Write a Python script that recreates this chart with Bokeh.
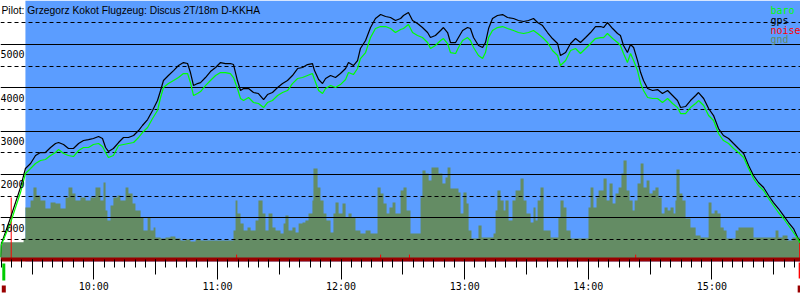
from bokeh.plotting import figure
from bokeh.models import Range1d, LinearAxis, FixedTicker, Grid, ColumnDataSource
from bokeh.core.properties import value
from bokeh.embed import file_html
from bokeh.resources import INLINE

TITLE = "Pilot: Grzegorz Kokot Flugzeug: Discus 2T/18m D-KKHA"

# ---- data (time in minutes since midnight, altitude in m) ----
t_track = [554.7, 555.0, 559.6, 564.4, 566.8, 569.3, 571.7, 574.1, 576.5, 579.0,
           581.4, 582.9, 585.3, 587.7, 590.1, 592.6, 595.0, 597.4, 599.8, 602.3,
           604.2, 605.7, 607.1, 609.5, 612.0, 614.4, 616.8, 619.3, 621.7, 623.6,
           626.1, 628.5, 630.9, 632.4, 633.8, 636.2, 638.7, 641.1, 643.5, 645.5,
           646.9, 648.4, 650.3, 651.8, 654.2, 656.6, 659.1, 661.5, 663.9, 666.3,
           667.8, 669.7, 671.2, 672.7, 675.1, 677.5, 679.9, 682.4, 684.3, 686.7,
           689.2, 691.6, 694.0, 696.4, 698.9, 701.3, 703.7, 706.1, 707.1, 709.1,
           711.0, 712.5, 714.9, 717.3, 719.7, 722.2, 723.6, 726.0, 728.0, 729.4,
           731.9, 734.3, 736.7, 739.2, 741.6, 744.0, 746.4, 748.9, 750.3, 752.7,
           754.7, 757.1, 759.5, 762.0, 763.4, 765.8, 768.3, 769.7, 771.7, 773.1,
           775.6, 777.0, 779.0, 781.4, 782.8, 784.3, 786.7, 788.7, 790.1, 791.6,
           793.5, 795.9, 798.4, 800.8, 803.7, 806.1, 808.6, 811.0, 813.4, 815.4,
           817.8, 820.2, 822.6, 825.1, 826.5, 829.0, 831.4, 833.8, 836.2, 838.7,
           841.1, 843.5, 846.0, 847.4, 849.3, 851.8, 854.2, 855.6, 857.1, 859.0,
           860.5, 862.0, 863.9, 865.4, 866.8, 868.8, 871.2, 873.6, 876.0, 878.5,
           880.9, 883.3, 884.8, 887.2, 889.6, 892.1, 893.5, 896.0, 898.4, 900.8,
           903.2, 905.6, 908.1, 910.5, 912.9, 915.4, 917.8, 920.2, 922.6, 925.1,
           927.5, 929.9, 932.3, 934.8, 937.2, 939.6, 941.6, 943.0]

gps_alt = [90, 380, 1006, 1699, 2137, 2253, 2437, 2506, 2506, 2622,
           2714, 2737, 2691, 2599, 2599, 2714, 2783, 2806, 2830, 2876,
           2830, 2622, 2530, 2599, 2737, 2853, 2853, 2899, 3014, 3130,
           3268, 3476, 3706, 3937, 4168, 4283, 4398, 4514, 4583, 4560,
           4352, 4052, 4098, 4121, 4237, 4375, 4468, 4583, 4560, 4560,
           4537, 4168, 3937, 3983, 3983, 3891, 3868, 3729, 3845, 3891,
           4006, 4098, 4168, 4283, 4445, 4468, 4537, 4560, 4398, 4191,
           4098, 4214, 4283, 4237, 4329, 4445, 4583, 4514, 4629, 4907,
           5091, 5391, 5599, 5691, 5645, 5622, 5553, 5599, 5668, 5737,
           5553, 5484, 5391, 5276, 5160, 5206, 5322, 5391, 5276, 5045,
           5045, 5160, 5322, 5391, 5368, 5160, 4976, 4930, 5045, 5368,
           5599, 5668, 5691, 5622, 5599, 5553, 5530, 5553, 5599, 5507,
           5437, 5276, 5137, 5022, 4745, 4814, 5022, 5137, 5045, 5160,
           5276, 5414, 5414, 5391, 5507, 5368, 5253, 5206, 4976, 4814,
           4999, 4930, 4629, 4352, 4168, 3983, 3937, 3960, 3868, 3937,
           3822, 3706, 3545, 3568, 3706, 3822, 3891, 3753, 3522, 3360,
           3060, 2899, 2830, 2714, 2599, 2483, 2206, 1976, 1814, 1699,
           1514, 1352, 1214, 1052, 891, 752, 545, 406]

baro_alt = [90, 360, 891, 1583, 2022, 2137, 2253, 2322, 2345, 2437,
            2506, 2576, 2483, 2437, 2414, 2553, 2622, 2622, 2691, 2714,
            2645, 2506, 2391, 2437, 2668, 2691, 2714, 2737, 2853, 2968,
            3083, 3291, 3476, 3776, 4006, 4098, 4168, 4237, 4329, 4329,
            4121, 3822, 3868, 3914, 4052, 4168, 4283, 4352, 4352, 4329,
            4237, 3983, 3753, 3706, 3776, 3660, 3637, 3545, 3660, 3706,
            3822, 3891, 3937, 4098, 4214, 4237, 4283, 4329, 4191, 3937,
            3868, 3983, 4052, 4006, 4075, 4191, 4352, 4306, 4445, 4675,
            4814, 5160, 5368, 5414, 5414, 5368, 5276, 5345, 5368, 5460,
            5276, 5206, 5160, 5045, 4907, 4976, 5091, 5137, 5022, 4814,
            4791, 4930, 5091, 5160, 5091, 4930, 4745, 4675, 4814, 5160,
            5322, 5391, 5414, 5368, 5322, 5276, 5253, 5276, 5322, 5253,
            5160, 5045, 4860, 4745, 4514, 4629, 4860, 4907, 4791, 4907,
            5022, 5137, 5160, 5160, 5253, 5137, 5045, 4976, 4791, 4583,
            4791, 4629, 4398, 4098, 3937, 3776, 3753, 3753, 3660, 3753,
            3637, 3545, 3406, 3406, 3545, 3637, 3706, 3591, 3360, 3245,
            2945, 2783, 2714, 2599, 2506, 2391, 2137, 1906, 1745, 1629,
            1445, 1283, 1122, 983, 822, 660, 522, 406]

t_gnd = [554.7, 565.9, 566.8, 569.3, 570.7, 572.2, 574.1, 576.5, 579.0, 581.4,
         583.8, 586.3, 587.7, 589.6, 591.1, 593.5, 596.0, 598.4, 600.8, 603.2,
         604.7, 605.7, 606.6, 608.1, 609.5, 611.5, 612.9, 615.4, 616.8, 618.8,
         620.2, 622.7, 624.1, 626.1, 627.5, 629.0, 629.9, 632.4, 634.8, 637.2,
         639.6, 642.1, 644.5, 646.9, 649.4, 651.8, 667.8, 668.8, 669.7, 671.2,
         672.7, 674.6, 676.1, 678.5, 679.9, 681.9, 683.3, 684.8, 686.7, 688.2,
         690.6, 692.1, 693.0, 694.5, 696.4, 697.9, 699.4, 701.3, 702.7, 704.2,
         706.1, 706.6, 708.6, 710.0, 711.5, 712.9, 714.9, 716.3, 717.3, 718.8,
         720.7, 722.2, 723.6, 725.1, 727.0, 729.4, 731.9, 734.3, 737.7, 739.2,
         740.6, 742.1, 743.5, 745.0, 746.4, 748.9, 750.3, 751.8, 753.7, 758.6,
         759.5, 761.0, 762.5, 763.9, 767.3, 769.2, 770.7, 771.7, 773.1, 777.0,
         778.0, 779.4, 780.9, 781.9, 783.3, 786.7, 788.2, 794.0, 795.0, 795.9,
         797.4, 798.9, 799.8, 801.3, 803.2, 804.7, 807.1, 808.6, 810.0, 812.0,
         813.4, 814.4, 815.4, 816.8, 818.3, 821.7, 825.5, 826.5, 828.0, 829.4,
         831.4, 840.1, 841.1, 842.5, 844.0, 845.0, 847.4, 848.9, 850.3, 851.8,
         853.2, 854.7, 856.1, 857.1, 858.6, 860.0, 861.5, 862.5, 863.9, 865.4,
         866.8, 868.3, 869.7, 871.2, 872.6, 874.1, 875.6, 877.0, 878.5, 879.9,
         881.4, 882.3, 882.8, 884.3, 885.7, 887.2, 889.6, 892.1, 894.5, 898.4,
         899.8, 901.3, 902.7, 904.2, 905.7, 907.1, 911.5, 912.9, 920.2, 930.9,
         932.3, 934.3, 936.7, 939.1, 943.0]

gnd_alt = [436, 522, 1237, 1399, 1699, 1514, 1399, 1214, 1352, 1329,
           1214, 1468, 1699, 1560, 1399, 1468, 1399, 1468, 1699, 1399,
           1814, 1168, 937, 1283, 1468, 1514, 1399, 1699, 1560, 1329,
           1168, 1006, 706, 1006, 706, 775, 545, 522, 545, 568,
           522, 475, 498, 452, 498, 475, 706, 1399, 1099, 868,
           706, 775, 706, 937, 1399, 1099, 706, 1099, 775, 706,
           637, 868, 1052, 706, 775, 660, 868, 891, 937, 1099,
           1399, 2137, 1699, 1399, 1099, 937, 660, 1099, 1352, 1099,
           1329, 1006, 1099, 1006, 706, 637, 706, 637, 1699, 1560,
           1329, 1099, 1237, 1352, 1099, 1629, 1699, 1168, 637, 1468,
           2091, 2022, 1860, 2160, 2022, 1791, 1929, 2160, 1676, 1583,
           1099, 1583, 1329, 706, 522, 822, 545, 637, 1168, 1629,
           1399, 1168, 1399, 937, 1399, 1629, 1906, 1399, 1099, 891,
           1237, 937, 1399, 1699, 706, 545, 1006, 1399, 1237, 706,
           522, 1237, 1699, 1237, 1468, 1629, 1906, 1399, 1791, 1329,
           1560, 1699, 2022, 2322, 1629, 1399, 1168, 1399, 1791, 2253,
           1699, 1860, 1560, 1629, 1699, 1468, 1099, 1237, 1168, 1237,
           1099, 1399, 2114, 1560, 1399, 983, 775, 591, 545, 1352,
           1099, 1168, 1099, 775, 706, 522, 706, 775, 545, 706,
           545, 591, 475, 545, 475]

noise_t = [559.9, 669.3, 739.2, 753.2, 863.0, 942.6]
noise_v = [1468, 150, 150, 150, 150, 430]

window_start = 566.8      # begin of the blue (recorded flight) band
takeoff_t = 556.3
landing_t = 942.6

alt_ticks = [1000, 2000, 3000, 4000, 5000]
alt_minor = [500, 1500, 2500, 3500, 4500, 5500]
alt_labels = ["1000", "2000", "3000", "4000", "5000"]
hour_ticks = [600, 660, 720, 780, 840, 900]
hour_labels = ["10:00", "11:00", "12:00", "13:00", "14:00", "15:00"]
half_ticks = [570, 630, 690, 750, 810, 870, 930]
five_min_ticks = list(range(555, 945, 5))

legend_names = ["baro", "gps", "noise", "gnd"]

# ---- styling / layout ----
BLUE = "#5b9dff"
GND = "#648c64"
BARO = "#00ff00"
GPS = "#000000"
NOISE = "#ff0000"
DARKRED = "#990000"
MONO = value("DejaVu Sans Mono")

W, H = 800, 300
X0, X1 = 554.7, 943.0
Y0, Y1 = -909.0, 6015.0


def py(px):
    return Y1 - px * (Y1 - Y0) / H


p = figure(width=W, height=H, x_range=Range1d(X0, X1), y_range=Range1d(Y0, Y1),
           x_axis_type=None, y_axis_type=None, toolbar_location=None,
           output_backend="svg", min_border=0, outline_line_color=None,
           background_fill_color="white", border_fill_color="white")

p.quad(left=[window_start], right=[X1], bottom=[py(261)], top=[Y1],
       fill_color=BLUE, line_color=None, level="image")
p.varea_step(x=t_gnd, y1=0, y2=gnd_alt, step_mode="after",
             fill_color=GND, level="image")

grid = Grid(dimension=1, ticker=FixedTicker(ticks=alt_ticks, minor_ticks=alt_minor),
            grid_line_color="black", grid_line_width=1,
            minor_grid_line_color="black", minor_grid_line_dash="4 3")
p.add_layout(grid)

p.segment(x0=noise_t, y0=0, x1=noise_t, y1=noise_v, line_color=NOISE, line_width=1)
p.line(t_track, gps_alt, line_color=GPS, line_width=1.2)
p.line(t_track, baro_alt, line_color=BARO, line_width=1.2)

# takeoff / landing markers under the axis
p.rect(x=[takeoff_t], y=[py(271.5)], width=3, height=17, width_units="screen",
       height_units="screen", fill_color="#00cc00", line_color=None)
p.rect(x=[landing_t], y=[py(270)], width=2, height=16, width_units="screen",
       height_units="screen", fill_color=NOISE, line_color=None)
p.rect(x=[takeoff_t, landing_t], y=[py(288.5)] * 2, width=4, height=7,
       width_units="screen", height_units="screen", fill_color=DARKRED, line_color=None)

ax = LinearAxis(ticker=FixedTicker(ticks=hour_ticks, minor_ticks=five_min_ticks),
                fixed_location=py(259),
                axis_line_color=DARKRED, axis_line_width=4,
                major_tick_line_color="black", major_tick_in=0, major_tick_out=20,
                minor_tick_line_color="black", minor_tick_in=0, minor_tick_out=8,
                major_label_overrides=dict(zip(hour_ticks, hour_labels)),
                major_label_standoff=1, major_label_text_font="DejaVu Sans Mono",
                major_label_text_font_size="10px", major_label_text_color="black")
p.add_layout(ax, "below")

ax2 = LinearAxis(ticker=FixedTicker(ticks=half_ticks, minor_ticks=[]),
                 fixed_location=py(259), axis_line_color=None,
                 major_tick_line_color="black", major_tick_in=0, major_tick_out=15,
                 minor_tick_line_color=None,
                 major_label_overrides={t: "" for t in half_ticks},
                 major_label_text_color=None)
p.add_layout(ax2, "below")

# altitude labels inside the plot
p.text(x=[X0] * len(alt_ticks), y=alt_ticks, text=alt_labels,
       text_align="left", text_baseline="alphabetic", y_offset=10,
       text_font=MONO, text_font_size=value("10px"), text_color="black")

# title
p.text(x=[X0], y=[Y1], text=[TITLE], text_align="left", text_baseline="alphabetic",
       x_offset=1, y_offset=10, text_font=value("Liberation Sans"),
       text_font_size=value("10.3px"), text_color="black")

# legend as coloured words
leg = ColumnDataSource(dict(x=[X1] * 4, y=[Y1] * 4, text=legend_names,
                            color=[BARO, GPS, NOISE, GND],
                            yoff=[10, 19.5, 29.5, 39]))
p.text(x="x", y="y", text="text", text_color="color", y_offset="yoff", x_offset=-30,
       source=leg, text_align="left", text_baseline="alphabetic",
       text_font=MONO, text_font_size=value("10px"))

open("out.html", "w").write(file_html(p, INLINE))
